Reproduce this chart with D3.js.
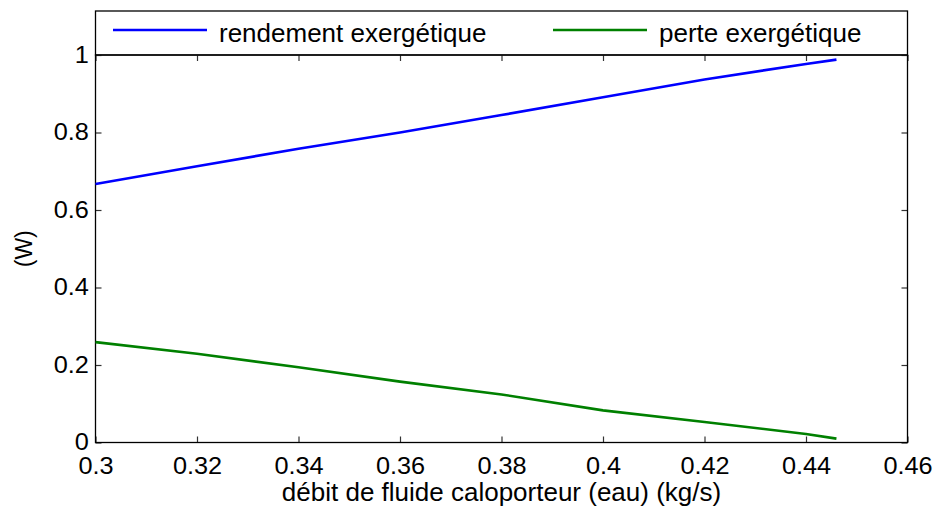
<!DOCTYPE html>
<html>
<head>
<meta charset="utf-8">
<script src="https://cdn.jsdelivr.net/npm/d3@7"></script>
<style>
  body { margin: 0; background: white; }
  text { font-family: "Liberation Sans", Arial, sans-serif; fill: #000; }
</style>
</head>
<body>
<div id="chart"></div>
<script>
// data
let debit = [0.3, 0.32, 0.34, 0.36, 0.38, 0.4, 0.42, 0.44, 0.446];
let rendement = [0.667, 0.713, 0.758, 0.800, 0.845, 0.891, 0.937, 0.977, 0.988];
let perte = [0.259, 0.229, 0.194, 0.157, 0.124, 0.083, 0.053, 0.022, 0.010];
let seriesNames = ["rendement exergétique", "perte exergétique"];
let seriesColors = ["#0000ff", "#008000"];
let xTicks = [0.3, 0.32, 0.34, 0.36, 0.38, 0.4, 0.42, 0.44, 0.46];
let xTickLabels = ["0.3", "0.32", "0.34", "0.36", "0.38", "0.4", "0.42", "0.44", "0.46"];
let yTicks = [0, 0.2, 0.4, 0.6, 0.8, 1];
let yTickLabels = ["0", "0.2", "0.4", "0.6", "0.8", "1"];

let W = 934, H = 509;
let margin = { top: 55, left: 95.5, right: 26.5, bottom: 66.5 };

let svg = d3.select('#chart')
  .append('svg')
  .attr('width', W)
  .attr('height', H);

let x = d3.scaleLinear().domain([0.3, 0.46]).range([margin.left, W - margin.right]);
let y = d3.scaleLinear().domain([0, 1]).range([H - margin.bottom, margin.top]);

// legend box sitting on top of the axes, same width
let legTop = 11;
svg.append("rect")
  .attr("x", x.range()[0]).attr("y", legTop)
  .attr("width", x.range()[1] - x.range()[0])
  .attr("height", margin.top - legTop)
  .attr("fill", "white").attr("stroke", "#000").attr("stroke-width", 1.3);

let legX = [113, 553];
seriesNames.forEach(function(name, i) {
  svg.append("line")
    .attr("x1", legX[i]).attr("x2", legX[i] + 94)
    .attr("y1", 30).attr("y2", 30)
    .attr("stroke", seriesColors[i]).attr("stroke-width", 2.6);
  svg.append("text")
    .attr("x", legX[i] + 106).attr("y", 41.5)
    .style("font-size", "26px")
    .text(name);
});

// bottom axis
svg.append("g")
  .attr("transform", "translate(0," + y(0) + ")")
  .call(d3.axisBottom(x).tickValues(xTicks).tickSize(-6).tickPadding(15)
    .tickFormat(function(d, i) { return xTickLabels[i]; }));
// top ticks
svg.append("g")
  .attr("transform", "translate(0," + y(1) + ")")
  .call(d3.axisTop(x).tickValues(xTicks).tickSize(-6).tickFormat(""));

// left axis
svg.append("g")
  .attr("class", "yaxis")
  .attr("transform", "translate(" + x(0.3) + ",0)")
  .call(d3.axisLeft(y).tickValues(yTicks).tickSize(-6).tickPadding(6)
    .tickFormat(function(d, i) { return yTickLabels[i]; }));
// right ticks
svg.append("g")
  .attr("transform", "translate(" + x(0.46) + ",0)")
  .call(d3.axisRight(y).tickValues(yTicks).tickSize(-6).tickFormat(""));

svg.selectAll(".domain").remove();
svg.selectAll(".tick line").attr("stroke", "#333").attr("stroke-width", 1.2);
// labels in the reference are a bit wider than the font
svg.selectAll(".tick text")
  .style("font-size", "23px")
  .attr("font-family", null)
  .attr("transform", "scale(1.1,1)");

// axes box
svg.append("rect")
  .attr("x", x(0.3)).attr("y", y(1))
  .attr("width", x(0.46) - x(0.3))
  .attr("height", y(0) - y(1))
  .attr("fill", "none").attr("stroke", "#000").attr("stroke-width", 1.3);

// lines
let line = d3.line()
  .x(function(d) { return x(d[0]); })
  .y(function(d) { return y(d[1]); });

[rendement, perte].forEach(function(vals, i) {
  svg.append("path")
    .datum(debit.map(function(d, j) { return [d, vals[j]]; }))
    .attr("fill", "none")
    .attr("stroke", seriesColors[i])
    .attr("stroke-width", 2.6)
    .attr("d", line);
});

// axis labels
svg.append("text")
  .attr("x", (x(0.3) + x(0.46)) / 2).attr("y", 501)
  .attr("text-anchor", "middle")
  .style("font-size", "26px")
  .text("débit de fluide caloporteur (eau) (kg/s)");

svg.append("text")
  .attr("transform", "translate(32," + (y(0) + y(1)) / 2 + ") rotate(-90)")
  .attr("text-anchor", "middle")
  .style("font-size", "23px")
  .text("(W)");
</script>
</body>
</html>
